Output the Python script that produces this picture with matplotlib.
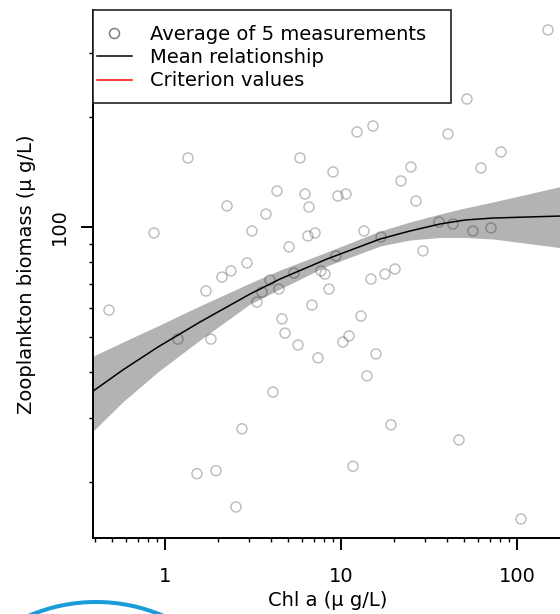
import matplotlib
matplotlib.use('Agg')
import matplotlib.pyplot as plt
from matplotlib.lines import Line2D
from matplotlib.patches import Rectangle, Ellipse
from matplotlib.ticker import LogLocator, FixedLocator, NullFormatter, FixedFormatter

plt.rcParams['font.family'] = ['DejaVu Sans']

# average of 5 measurements (chl a, zooplankton biomass)
chl = [1.351, 2.251, 0.866, 3.121, 2.924, 2.371, 2.108, 1.710, 0.481, 1.185,
       1.825, 4.329, 3.749, 150.0, 51.97, 12.33, 15.20, 40.55, 81.1, 5.85,
       24.98, 21.93, 62.44, 9.01, 6.245, 6.58, 9.61, 10.68, 26.68, 36.06,
       43.29, 56.23, 71.17, 13.51, 16.88, 6.49, 7.12, 5.07, 29.24, 9.37,
       5.41, 7.70, 8.11, 14.81, 17.78, 20.27, 8.55, 3.95, 4.44, 3.56,
       3.33, 6.84, 12.99, 4.62, 4.81, 5.70, 10.26, 11.11, 7.40, 15.81,
       2.738, 1.52, 1.949, 2.531, 4.108, 14.05, 19.23, 11.70, 46.83, 105.4]
zoo = [154.5, 114.2, 96.3, 97.5, 79.7, 75.8, 72.9, 66.8, 59.2, 49.3,
       49.3, 125.5, 108.5, 346.5, 224.2, 182.1, 189.1, 179.8, 160.5, 154.5,
       146.0, 133.7, 145.1, 141.5, 123.1, 113.4, 121.6, 123.1, 117.8, 103.2,
       101.9, 97.5, 99.4, 97.5, 93.9, 94.5, 96.3, 88.2, 86.0, 83.3,
       74.8, 75.8, 74.3, 72.0, 74.3, 76.7, 67.6, 71.6, 67.6, 66.3,
       62.3, 61.1, 57.0, 56.0, 51.2, 47.5, 48.4, 50.3, 43.8, 44.9,
       28.0, 21.1, 21.5, 17.1, 35.3, 39.1, 28.7, 22.1, 26.1, 15.85]

# mean relationship and its band
fit_x = [0.390, 0.577, 0.912, 1.58, 3.04, 4.50, 8.32, 16.7, 24.66, 36.5, 50.6, 73.1, 182.6]
fit_mean = [35.5, 40.6, 46.9, 54.9, 65.5, 72.0, 81.7, 92.7, 97.5, 101.9, 104.5, 105.8, 107.2]
fit_upper = [44.3, 48.4, 53.6, 60.8, 70.2, 76.2, 85.4, 97.5, 103.2, 108.5, 112.7, 117.1, 129.5]
fit_lower = [27.6, 33.2, 40.1, 49.0, 61.5, 67.6, 78.2, 88.7, 92.1, 93.6, 93.6, 92.7, 87.6]

x_ticks = [1, 10, 100]
x_ticklabels = ['1', '10', '100']
y_ticks = [100]
y_ticklabels = ['100']

fig = plt.figure(figsize=(5.6, 6.14), dpi=100)
ax = fig.add_axes([93 / 560, 1 - 538 / 614, 470 / 560, 528 / 614])
ax.set_xscale('log')
ax.set_yscale('log')

ax.fill_between(fit_x, fit_lower, fit_upper, color='#b3b3b3', lw=0, zorder=1)
ax.scatter(chl, zoo, s=52, facecolors='none', edgecolors=(0, 0, 0, 0.25), linewidths=1.1, zorder=2)
ax.plot(fit_x, fit_mean, color='black', lw=1.1, zorder=3)

ax.set_xlim(0.390, 182.6)
ax.set_ylim(14.06, 393)

ax.xaxis.set_major_locator(FixedLocator(x_ticks))
ax.xaxis.set_major_formatter(FixedFormatter(x_ticklabels))
ax.xaxis.set_minor_locator(LogLocator(base=10, subs=range(2, 10)))
ax.xaxis.set_minor_formatter(NullFormatter())
ax.yaxis.set_major_locator(FixedLocator(y_ticks))
ax.yaxis.set_major_formatter(FixedFormatter(y_ticklabels))
ax.yaxis.set_minor_locator(LogLocator(base=10, subs=range(2, 10)))
ax.yaxis.set_minor_formatter(NullFormatter())

for s in ['top', 'right']:
    ax.spines[s].set_visible(False)
for s in ['left', 'bottom']:
    ax.spines[s].set_linewidth(1.4)

ax.tick_params(which='major', direction='out', length=8.6, width=1.4, labelsize=14)
ax.tick_params(which='minor', direction='out', length=3.2, width=1.0)
ax.tick_params(axis='x', which='major', pad=12)
ax.tick_params(axis='y', which='major', pad=9)
for lab in ax.get_yticklabels():
    lab.set_rotation(90)
    lab.set_va('center')

ax.set_xlabel('Chl a (\u03bc g/L)', fontsize=14, labelpad=4)
ax.set_ylabel('Zooplankton biomass (\u03bc g/L)', fontsize=14, labelpad=10)

# legend box
ax.add_patch(Rectangle((0, 0.8239), 0.7617, 0.1761, transform=ax.transAxes,
                       facecolor='white', edgecolor='#222222', lw=1.2, clip_on=False, zorder=5))
handles = [Line2D([], [], ls='none', marker='o', markersize=7.2, mfc='none', mec='#7f7f7f', mew=1.1),
           Line2D([], [], color='black', lw=1.1),
           Line2D([], [], color='red', lw=1.1)]
labels = ['Average of 5 measurements', 'Mean relationship', 'Criterion values']
leg = ax.legend(handles, labels, loc='upper left', bbox_to_anchor=(0.0085, 0.972), frameon=False,
                borderpad=0, borderaxespad=0, handlelength=1.8, handletextpad=0.93,
                labelspacing=0.22, fontsize=14)
leg.set_zorder(6)

# blue circle mark at bottom left
fig.patches.append(Ellipse((96 / 560, 1 - 773 / 614), 2 * 171 / 560, 2 * 171 / 614,
                           transform=fig.transFigure, fill=False, edgecolor='#1a9cd8', lw=2.9))

fig.savefig('out.png', dpi=100)
